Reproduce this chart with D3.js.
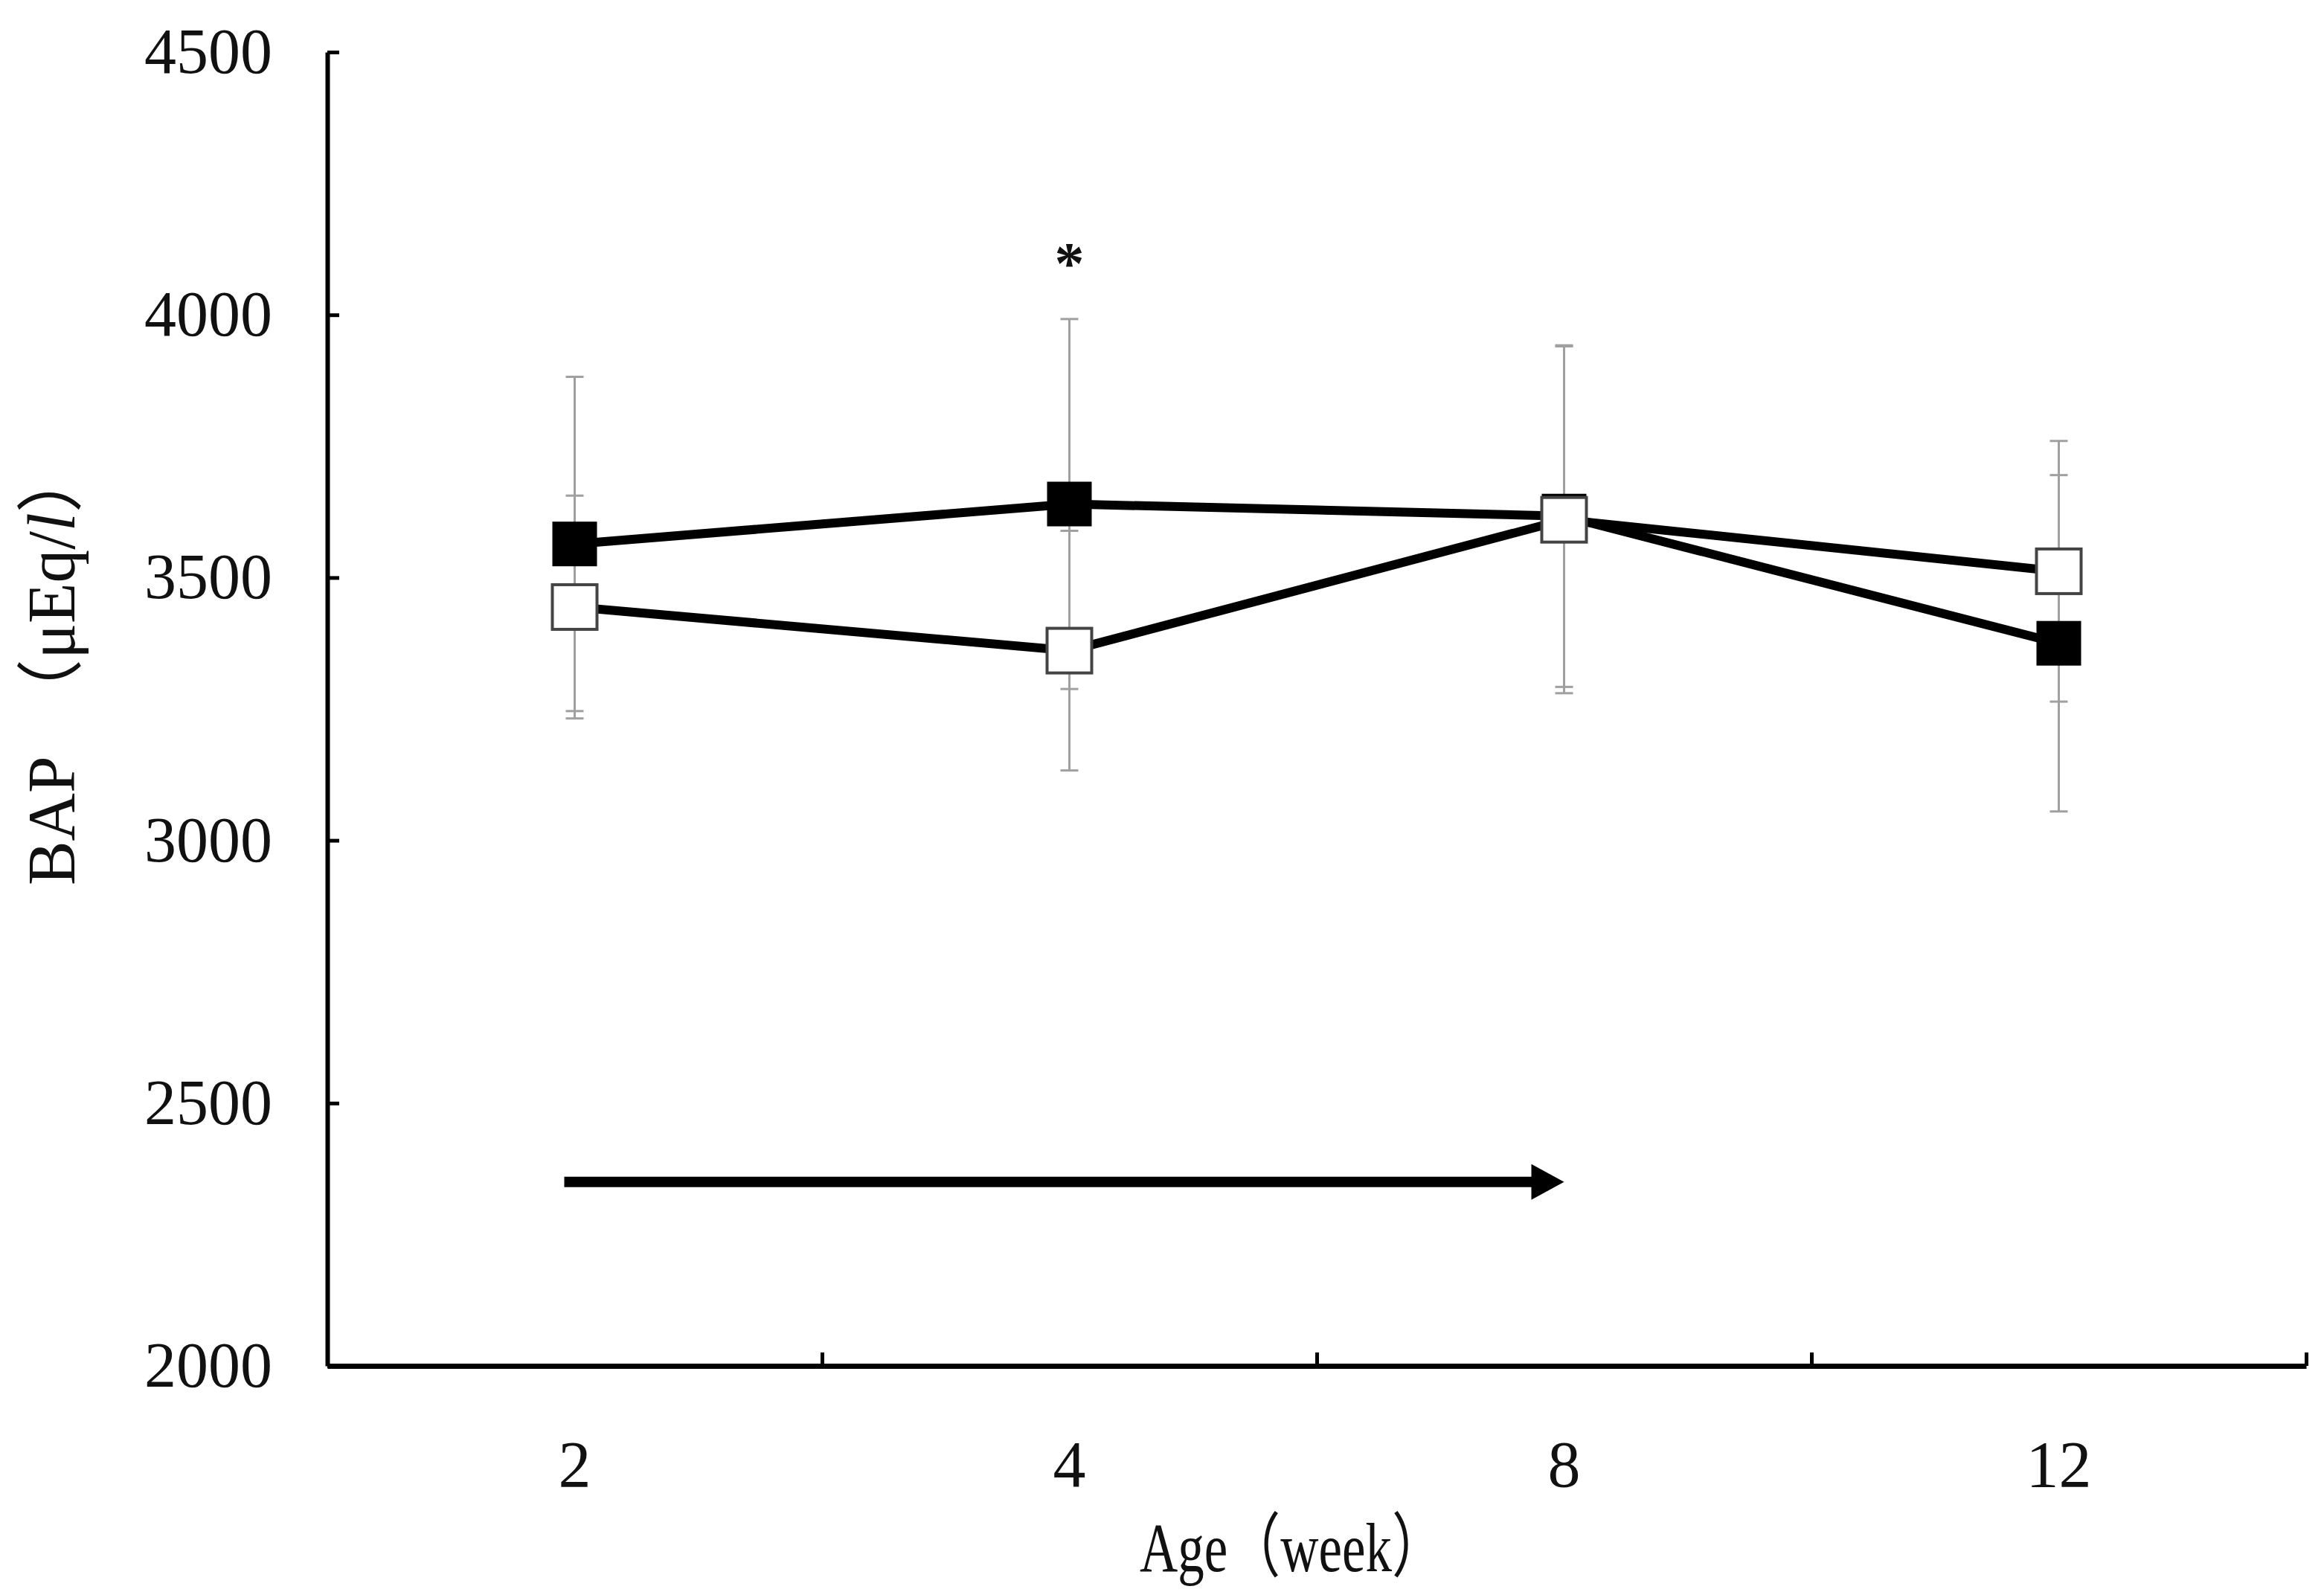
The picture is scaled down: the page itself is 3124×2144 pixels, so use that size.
<!DOCTYPE html>
<html lang="ja">
<head>
<meta charset="UTF-8">
<title>BAP</title>
<script src="https://cdn.jsdelivr.net/npm/d3@7"></script>
<style>
  body { margin: 0; background: #fff; }
  text { font-family: "Liberation Serif", "DejaVu Serif", "Noto Sans CJK JP", serif; fill: #111; }
</style>
</head>
<body>
<svg width="3124" height="2144"></svg>
<script>
const weeks = ["2", "4", "8", "12"];
const filledMean = [3564, 3640, 3617, 3375];
const filledSD = [318, 352, 325, 320];
const openMean = [3444, 3361, 3610, 3512];
const openSD = [212, 228, 330, 248];
const yTicks = [2000, 2500, 3000, 3500, 4000, 4500];
// arrow: treatment period from week 2 to week 8, drawn at this BAP level
const arrowFrom = "2", arrowTo = "8", arrowLevel = 2350;
const starWeek = "4", starLevel = 4105;

const svg = d3.select("svg");
const mLeft = 440, mRight = 3100, mTop = 70, mBottom = 1836;

const x = d3.scaleBand().domain(weeks).range([mLeft, mRight]);
const xb = d3.scaleLinear().domain([0, weeks.length]).range([mLeft, mRight]);
const y = d3.scaleLinear().domain([2000, 4500]).range([mBottom, mTop]);
const cx = d => x(d) + x.bandwidth() / 2;

// axes
const gy = svg.append("g").attr("transform", `translate(${mLeft},0)`)
  .call(d3.axisLeft(y).tickValues(yTicks).tickFormat(d3.format("d"))
    .tickSizeInner(-16).tickSizeOuter(0).tickPadding(74));
gy.select(".domain").attr("stroke", "#000").attr("stroke-width", 6);
gy.selectAll(".tick line").attr("stroke", "#000").attr("stroke-width", 5);
gy.selectAll(".tick text").attr("font-size", 86).attr("fill", "#333")
  .attr("font-family", "Liberation Serif, serif");

const gx = svg.append("g").attr("transform", `translate(0,${mBottom})`)
  .call(d3.axisBottom(xb).tickValues([1, 2, 3, 4]).tickSizeInner(-18).tickSizeOuter(0).tickFormat(""));
gx.select(".domain").attr("stroke", "#000").attr("stroke-width", 7);
gx.selectAll(".tick line").attr("stroke", "#000").attr("stroke-width", 5);

const gl = svg.append("g").attr("transform", `translate(0,${mBottom})`)
  .call(d3.axisBottom(x).tickSize(0).tickPadding(100));
gl.select(".domain").remove();
gl.selectAll(".tick text").attr("font-size", 88).attr("fill", "#333")
  .attr("font-family", "Liberation Serif, serif");

// axis titles
svg.append("text")
  .attr("x", 1737).attr("y", 2112)
  .attr("text-anchor", "middle").attr("font-size", 94)
  .attr("textLength", 410).attr("lengthAdjust", "spacingAndGlyphs")
  .text("Age（week）");

const yt = svg.append("text")
  .attr("transform", "translate(100,895) rotate(-90)")
  .attr("text-anchor", "middle").attr("font-size", 90)
  .attr("textLength", 590).attr("lengthAdjust", "spacingAndGlyphs");
yt.append("tspan").text("BAP　（μEq/");
yt.append("tspan").attr("font-style", "italic").text("l");
yt.append("tspan").text("）");

// data rows
const rows = (means, sds) => weeks.map((w, i) => ({ w: w, m: means[i], sd: sds[i] }));
const filled = rows(filledMean, filledSD);
const open = rows(openMean, openSD);

// error bars
[filled, open].forEach(data => {
  const g = svg.append("g").attr("stroke", "#a0a0a0").attr("stroke-width", 3);
  g.selectAll(".v").data(data).join("line")
    .attr("x1", d => cx(d.w)).attr("x2", d => cx(d.w))
    .attr("y1", d => y(d.m + d.sd)).attr("y2", d => y(d.m - d.sd));
  g.selectAll(".cu").data(data).join("line")
    .attr("x1", d => cx(d.w) - 12).attr("x2", d => cx(d.w) + 12)
    .attr("y1", d => y(d.m + d.sd)).attr("y2", d => y(d.m + d.sd));
  g.selectAll(".cl").data(data).join("line")
    .attr("x1", d => cx(d.w) - 12).attr("x2", d => cx(d.w) + 12)
    .attr("y1", d => y(d.m - d.sd)).attr("y2", d => y(d.m - d.sd));
});

// lines
const line = d3.line().x(d => cx(d.w)).y(d => y(d.m));
[filled, open].forEach(data => {
  svg.append("path").datum(data).attr("d", line)
    .attr("fill", "none").attr("stroke", "#000").attr("stroke-width", 12)
    .attr("stroke-linejoin", "round");
});

// markers
const ms = 60;
svg.append("g").selectAll("rect").data(filled).join("rect")
  .attr("x", d => cx(d.w) - ms / 2).attr("y", d => y(d.m) - ms / 2)
  .attr("width", ms).attr("height", ms).attr("fill", "#000");
svg.append("g").selectAll("rect").data(open).join("rect")
  .attr("x", d => cx(d.w) - ms / 2).attr("y", d => y(d.m) - ms / 2)
  .attr("width", ms).attr("height", ms)
  .attr("fill", "#fff").attr("stroke", "#444").attr("stroke-width", 4);

// significance mark
svg.append("text")
  .attr("x", cx(starWeek)).attr("y", y(starLevel) + 32)
  .attr("text-anchor", "middle").attr("font-size", 80).attr("font-weight", "bold")
  .text("*");

// treatment arrow
const ax0 = cx(arrowFrom) - 14, ax1 = cx(arrowTo), ay = y(arrowLevel);
svg.append("line")
  .attr("x1", ax0).attr("x2", ax1 - 40).attr("y1", ay).attr("y2", ay)
  .attr("stroke", "#000").attr("stroke-width", 14);
svg.append("path")
  .attr("d", `M${ax1 - 44},${ay - 24} L${ax1},${ay} L${ax1 - 44},${ay + 24} Z`)
  .attr("fill", "#000");
</script>
</body>
</html>
